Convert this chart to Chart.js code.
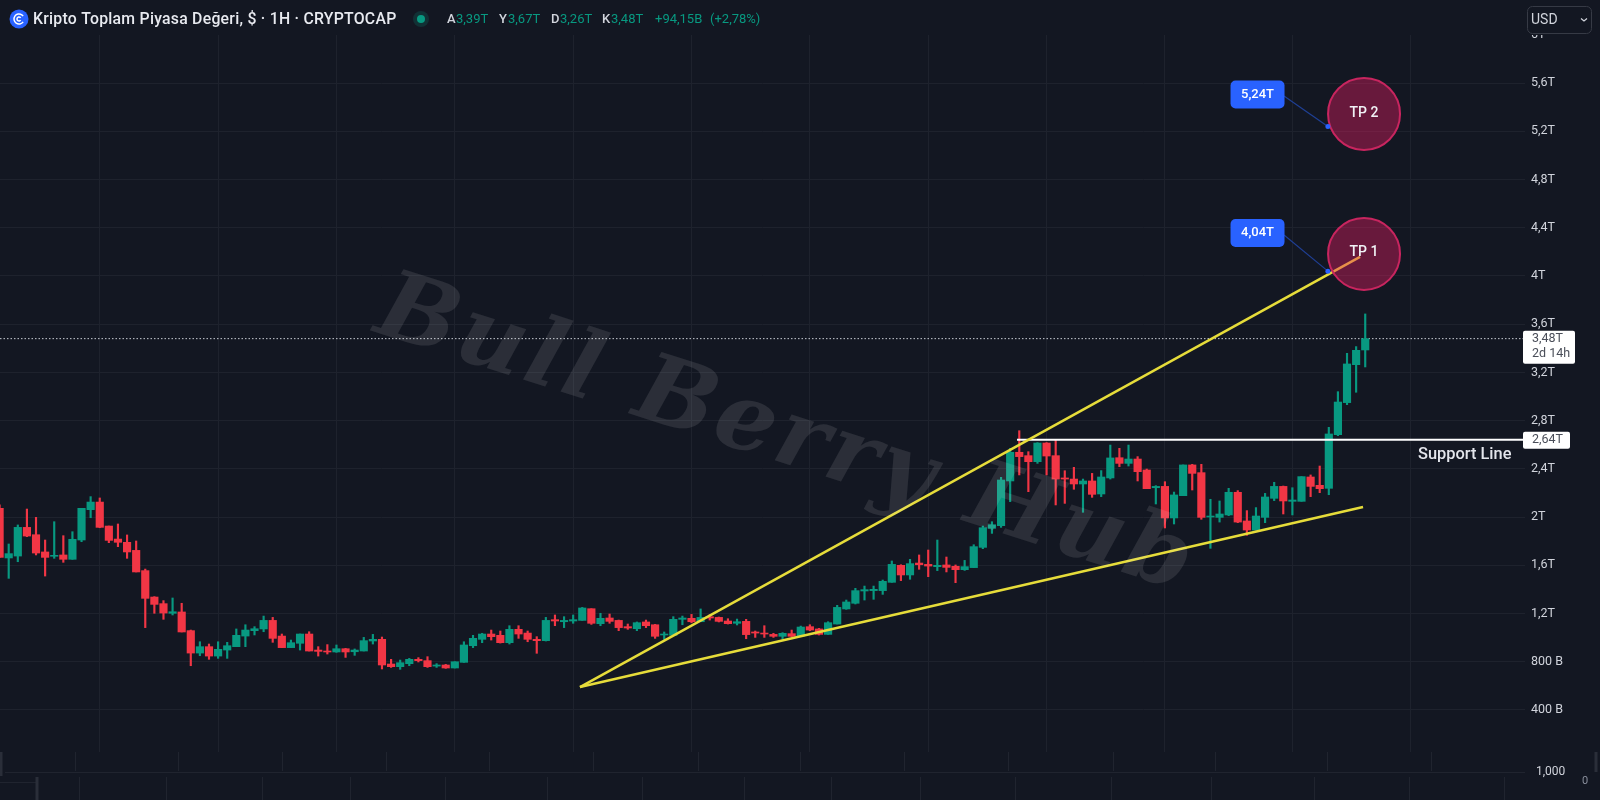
<!DOCTYPE html>
<html>
<head>
<meta charset="utf-8">
<title>Kripto Toplam Piyasa Değeri</title>
<script src="https://cdn.jsdelivr.net/npm/chart.js@4"></script>
<style>
body { margin: 0; background: #131722; }
canvas { display: block; }
</style>
</head>
<body>
<canvas id="chart" width="1600" height="800"></canvas>
<script>
// values in trillions, one candle per hour-bar of the picture
const openValues = [
  2.072,1.660,1.676,1.914,1.853,1.710,1.674,1.685,1.649,1.809,
  2.061,2.124,1.925,1.817,1.790,1.723,1.555,1.336,1.281,1.201,
  1.212,1.057,0.871,0.924,0.846,0.896,0.924,1.012,1.057,1.071,
  1.142,1.012,0.916,0.952,1.029,0.896,0.888,0.880,0.907,0.882,
  0.888,0.971,0.985,0.780,0.758,0.783,0.819,0.808,0.763,0.772,
  0.747,0.794,0.932,0.985,1.029,1.018,0.957,1.068,1.037,0.985,
  0.974,1.148,1.131,1.137,1.142,1.239,1.115,1.162,1.142,1.090,
  1.073,1.129,1.106,1.021,1.018,1.151,1.159,1.131,1.173,1.167,
  1.137,1.118,1.134,1.046,1.037,1.026,1.010,1.032,1.012,1.090,
  1.071,1.026,1.112,1.237,1.284,1.386,1.389,1.389,1.458,1.599,
  1.519,1.618,1.607,1.588,1.602,1.591,1.563,1.580,1.748,1.906,
  1.928,2.299,2.537,2.509,2.459,2.614,2.509,2.324,2.315,2.274,
  2.299,2.191,2.324,2.492,2.445,2.481,2.390,2.243,2.254,1.992,
  2.177,2.432,2.368,2.000,1.997,2.017,2.205,1.967,1.892,1.997,
  2.155,2.254,2.130,2.130,2.332,2.263,2.238,2.683,2.949,3.264,
  3.386
];
const closeValues = [
  1.665,1.696,1.914,1.842,1.701,1.665,1.682,1.649,1.815,2.072,
  2.124,1.914,1.806,1.790,1.710,1.544,1.325,1.275,1.203,1.214,
  1.046,0.871,0.924,0.846,0.902,0.932,1.018,1.062,1.073,1.142,
  0.993,0.916,0.957,1.029,0.888,0.885,0.880,0.907,0.880,0.896,
  0.974,0.985,0.772,0.758,0.791,0.819,0.808,0.758,0.772,0.747,
  0.799,0.938,0.993,1.029,1.007,0.957,1.068,1.029,0.985,0.974,
  1.142,1.137,1.142,1.148,1.245,1.118,1.159,1.134,1.082,1.079,
  1.123,1.098,1.010,1.029,1.151,1.162,1.131,1.167,1.162,1.134,
  1.115,1.131,1.024,1.037,1.029,1.010,1.035,1.010,1.087,1.062,
  1.026,1.123,1.250,1.295,1.389,1.397,1.400,1.466,1.607,1.519,
  1.613,1.604,1.593,1.599,1.582,1.563,1.588,1.754,1.911,1.936,
  2.307,2.537,2.501,2.459,2.614,2.506,2.315,2.315,2.274,2.299,
  2.188,2.332,2.490,2.445,2.481,2.376,2.235,2.254,1.992,2.183,
  2.432,2.362,1.997,2.008,2.025,2.205,1.958,1.892,2.008,2.166,
  2.254,2.133,2.141,2.335,2.254,2.235,2.689,2.954,3.270,3.383,
  3.480
];
const highValues = [
  2.100,1.776,1.934,2.066,1.997,1.809,1.961,1.845,1.878,2.072,
  2.169,2.158,1.925,1.942,1.851,1.801,1.568,1.339,1.306,1.328,
  1.284,1.062,0.965,0.946,0.965,0.960,1.071,1.106,1.090,1.178,
  1.167,1.029,0.979,1.029,1.048,0.924,0.941,0.938,0.910,0.905,
  1.001,1.026,1.004,0.819,0.813,0.827,0.833,0.841,0.783,0.777,
  0.799,0.965,1.018,1.035,1.062,1.054,1.098,1.098,1.054,1.007,
  1.167,1.187,1.173,1.187,1.250,1.239,1.201,1.195,1.145,1.112,
  1.129,1.145,1.109,1.046,1.173,1.178,1.192,1.237,1.189,1.170,
  1.156,1.153,1.151,1.054,1.098,1.035,1.040,1.062,1.095,1.106,
  1.076,1.131,1.267,1.311,1.408,1.427,1.427,1.477,1.635,1.604,
  1.649,1.685,1.726,1.809,1.668,1.602,1.640,1.770,1.925,1.961,
  2.329,2.570,2.716,2.542,2.617,2.617,2.639,2.384,2.412,2.315,
  2.362,2.385,2.597,2.570,2.597,2.501,2.398,2.260,2.293,2.207,
  2.432,2.437,2.437,2.147,2.133,2.238,2.219,2.053,2.078,2.196,
  2.288,2.257,2.243,2.335,2.349,2.423,2.744,3.040,3.358,3.414,
  3.685
];
const lowValues = [
  1.665,1.491,1.629,1.837,1.685,1.510,1.657,1.624,1.649,1.795,
  1.994,1.911,1.787,1.754,1.657,1.544,1.082,1.201,1.151,1.187,
  1.046,0.766,0.849,0.819,0.827,0.827,0.924,0.924,1.021,1.048,
  0.960,0.916,0.916,0.896,0.888,0.846,0.863,0.877,0.835,0.852,
  0.888,0.946,0.739,0.752,0.736,0.766,0.797,0.752,0.752,0.744,
  0.747,0.794,0.916,0.957,0.979,0.954,0.946,0.993,0.965,0.869,
  0.971,1.098,1.082,1.118,1.142,1.109,1.098,1.118,1.057,1.068,
  1.057,1.082,0.993,0.985,1.018,1.106,1.123,1.131,1.145,1.129,
  1.112,1.104,0.990,1.001,1.001,1.001,0.985,1.007,1.010,1.057,
  1.021,1.026,1.112,1.234,1.278,1.311,1.317,1.358,1.458,1.472,
  1.483,1.566,1.505,1.555,1.544,1.455,1.557,1.580,1.737,1.864,
  1.914,2.127,2.349,2.210,2.445,2.349,2.100,2.113,2.230,2.039,
  2.163,2.169,2.315,2.418,2.423,2.299,2.235,2.108,1.909,1.942,
  2.177,2.224,1.981,1.740,1.958,2.011,1.953,1.848,1.892,1.953,
  2.136,2.025,2.017,2.130,2.169,2.202,2.185,2.675,2.932,3.035,
  3.245
];

const yTickValues = [0.4,0.8,1.2,1.6,2,2.4,2.8,3.2,3.6,4,4.4,4.8,5.2,5.6,6];
const yTickLabels = ["400 B","800 B","1,2T","1,6T","2T","2,4T","2,8T","3,2T","3,6T","4T","4,4T","4,8T","5,2T","5,6T","6T"];
const xGridIndex = [11,24,37,50,63,76,89,102,115,128,142,155];

// drawings on the chart, in candle index / trillions
const upperTrend = [[63.75,0.589],[149.43,4.158]];
const lowerTrend = [[63.75,0.589],[149.76,2.083]];
const supportLevel = 2.64, supportStart = 111.75;
const lastPrice = 3.48;
const targetNames = ["TP 2","TP 1"];
const targetX = [149.87,149.87];
const targetY = [5.344,4.183];
const calloutLabels = ["5,24T","4,04T"];
const calloutBoxX = [138.17,138.17];
const calloutBoxY = [5.506,4.357];
const calloutStartX = [141.08,141.08];
const calloutStartY = [5.494,4.340];
const calloutEndX = [145.9,145.9];
const calloutEndY = [5.24,4.04];

const xMin = 0.044, xMax = 167.55, yMin = 0.05, yMax = 6.29;

const GREEN = "#089981", RED = "#f23645", BG = "#131722", GRID = "#1e222d", TEXT = "#d1d4dc";

const indexes = openValues.map((v, i) => i);
const candleColors = indexes.map(i => closeValues[i] >= openValues[i] ? GREEN : RED);
const pts = arr => arr.map(p => ({ x: p[0], y: p[1] }));

function lineSet(data, color, width, order, extra) {
  return Object.assign({
    type: "line", data: data, borderColor: color, borderWidth: width,
    pointRadius: 0, tension: 0, order: order
  }, extra || {});
}

const calloutSets = calloutLabels.map((l, i) => lineSet(
  [{ x: calloutStartX[i], y: calloutStartY[i] }, { x: calloutEndX[i], y: calloutEndY[i] }],
  "#1f3f94", 1.2, 1,
  { pointRadius: [0, 2.5], pointBackgroundColor: "#2962ff", pointBorderWidth: 0 }
));

function text(ctx, str, x, y, font, color, align) {
  ctx.font = font;
  ctx.fillStyle = color;
  ctx.textAlign = align || "left";
  ctx.textBaseline = "middle";
  ctx.fillText(str, x, y);
}

function box(ctx, x, y, w, h, r, fill, stroke) {
  ctx.beginPath();
  ctx.roundRect(x, y, w, h, r);
  if (fill) { ctx.fillStyle = fill; ctx.fill(); }
  if (stroke) { ctx.strokeStyle = stroke; ctx.lineWidth = 1; ctx.stroke(); }
}

function drawBottomStrip(ctx) {
  ctx.strokeStyle = "#20242f";
  ctx.lineWidth = 1;
  const rowA = [75,178,282,386,489,593,698,800,904,1008,1113,1215,1327,1431];
  const rowB = [79,166,262,350,445,547,642,744,831,920,1015,1111,1211,1314,1409,1504];
  ctx.beginPath();
  rowA.forEach(x => { ctx.moveTo(x + .5, 752); ctx.lineTo(x + .5, 771); });
  rowB.forEach(x => { ctx.moveTo(x + .5, 777); ctx.lineTo(x + .5, 800); });
  ctx.moveTo(5, 772.5); ctx.lineTo(1525, 772.5);
  ctx.moveTo(0, 782.5); ctx.lineTo(37, 782.5);
  ctx.stroke();
  ctx.strokeStyle = "#2a2e39";
  ctx.lineWidth = 3;
  ctx.beginPath();
  ctx.moveTo(1, 752); ctx.lineTo(1, 776);
  ctx.moveTo(37, 777); ctx.lineTo(37, 800);
  ctx.moveTo(1596, 752); ctx.lineTo(1596, 772);
  ctx.stroke();
  text(ctx, "1,000", 1536, 772, "12px Roboto", TEXT);
  text(ctx, "0", 1582, 781, "11px Roboto", "#8a8f9c");
}

function drawHeader(ctx) {
  ctx.fillStyle = BG;
  ctx.fillRect(0, 0, 1600, 35);
  ctx.beginPath(); ctx.arc(19, 19, 9.5, 0, Math.PI * 2); ctx.fillStyle = "#2962ff"; ctx.fill();
  ctx.strokeStyle = "#ffffff"; ctx.lineWidth = 1.5;
  ctx.beginPath(); ctx.arc(19, 19, 5, 0.6, Math.PI * 2 - 0.6); ctx.stroke();
  ctx.beginPath(); ctx.arc(19, 19, 2, 0.6, Math.PI * 2 - 0.6); ctx.stroke();
  ctx.letterSpacing = "0.25px";
  text(ctx, "Kripto Toplam Piyasa Değeri, $ · 1H · CRYPTOCAP", 33, 20, "500 15.8px Roboto", "#e8eaf0");
  ctx.letterSpacing = "0px";
  ctx.beginPath(); ctx.arc(421, 19, 8, 0, Math.PI * 2); ctx.fillStyle = "rgba(8,153,129,0.2)"; ctx.fill();
  ctx.beginPath(); ctx.arc(421, 19, 4, 0, Math.PI * 2); ctx.fillStyle = GREEN; ctx.fill();
  const f = "13px Roboto";
  const ohlc = [["A","3,39T",447],["Y","3,67T",499],["D","3,26T",551],["K","3,48T",602]];
  ohlc.forEach(o => {
    text(ctx, o[0], o[2], 20, "500 13px Roboto", "#d1d4dc");
    text(ctx, o[1], o[2] + 9, 20, f, GREEN);
  });
  text(ctx, "+94,15B", 655, 20, f, GREEN);
  text(ctx, "(+2,78%)", 710, 20, f, GREEN);
  // currency selector
  box(ctx, 1527.5, 6.5, 64, 27, 5, BG, "#363a45");
  text(ctx, "USD", 1531, 20, "14px Roboto", TEXT);
  ctx.strokeStyle = TEXT; ctx.lineWidth = 1.2;
  ctx.beginPath(); ctx.moveTo(1581, 18.5); ctx.lineTo(1584, 21); ctx.lineTo(1587, 18.5); ctx.stroke();
}

const overlayPlugin = {
  id: "overlay",
  afterDatasetsDraw(chart) {
    const ctx = chart.ctx, xs = chart.scales.x, ys = chart.scales.y;
    ctx.save();
    // watermark sits over the candles
    ctx.save();
    ctx.translate(372, 331);
    ctx.rotate(17.8 * Math.PI / 180);
    ctx.letterSpacing = "3.8px";
    ctx.font = "italic bold 94px 'DejaVu Serif'";
    ctx.fillStyle = "rgba(255,255,255,0.1)";
    ctx.textAlign = "left";
    ctx.textBaseline = "alphabetic";
    ctx.fillText("Bull Berry Hub", 0, 0);
    ctx.restore();

    targetNames.forEach((n, i) => {
      text(ctx, n, xs.getPixelForValue(targetX[i]), ys.getPixelForValue(targetY[i]) - 1, "500 14px Roboto", "#f0f1f5", "center");
    });
    calloutLabels.forEach((l, i) => {
      const cx = xs.getPixelForValue(calloutBoxX[i]), cy = ys.getPixelForValue(calloutBoxY[i]);
      box(ctx, cx - 27, cy - 14, 54, 28, 5, "#2962ff");
      text(ctx, l, cx, cy, "500 13px Roboto", "#ffffff", "center");
    });
    text(ctx, "Support Line", 1418, 455, "500 16.4px Roboto", "#e4e6ec");

    // price labels on the axis
    const py = ys.getPixelForValue(lastPrice), sy = ys.getPixelForValue(supportLevel);
    box(ctx, 1523, py - 8, 52, 33, 2, "#ffffff");
    text(ctx, "3,48T", 1532, py, "12.5px Roboto", "#4a4e59");
    text(ctx, "2d 14h", 1532, py + 15, "12.5px Roboto", "#4a4e59");
    box(ctx, 1523, sy - 8, 47, 17, 2, "#ffffff");
    text(ctx, "2,64T", 1532, sy + 0.5, "12.5px Roboto", "#4a4e59");

    drawBottomStrip(ctx);
    drawHeader(ctx);
    ctx.restore();
  }
};

new Chart(document.getElementById("chart"), {
  type: "bar",
  data: {
    datasets: [
      { data: indexes.map(i => ({ x: i, y: [openValues[i], closeValues[i]] })), backgroundColor: candleColors,
        barThickness: 7.5, grouped: false, borderSkipped: false, order: 4 },
      { data: indexes.map(i => ({ x: i, y: [lowValues[i], highValues[i]] })), backgroundColor: candleColors,
        barThickness: 1.5, grouped: false, borderSkipped: false, order: 5 },
      lineSet([{ x: xMin, y: lastPrice }, { x: xMax, y: lastPrice }], "#c9ccd4", 1, 6, { borderDash: [1.5, 2] }),
      lineSet(pts(upperTrend), "#e6dc3a", 2.5, 3),
      lineSet(pts(lowerTrend), "#e6dc3a", 2.5, 3),
      lineSet([{ x: supportStart, y: supportLevel }, { x: xMax, y: supportLevel }], "#ffffff", 2, 3),
      ...calloutSets,
      { type: "bubble", data: targetX.map((x, i) => ({ x: x, y: targetY[i], r: 36 })),
        backgroundColor: "rgba(233,30,99,0.4)", borderColor: "#c8255f", borderWidth: 2, order: 2 }
    ]
  },
  options: {
    responsive: false,
    devicePixelRatio: 1,
    animation: false,
    layout: { padding: { bottom: 48 }, autoPadding: false },
    plugins: { legend: { display: false }, tooltip: { enabled: false } },
    scales: {
      x: {
        type: "linear", min: xMin, max: xMax, offset: false,
        afterBuildTicks: s => { s.ticks = xGridIndex.map(v => ({ value: v })); },
        ticks: { display: false },
        grid: { color: GRID, drawTicks: false, offset: false },
        border: { display: false }
      },
      y: {
        position: "right", min: yMin, max: yMax,
        afterBuildTicks: s => { s.ticks = yTickValues.map(v => ({ value: v })); },
        // plot runs right up to the top edge, the header covers it
        afterFit: s => { s.width = 75; s.paddingTop = 0; s.paddingBottom = 0; },
        ticks: {
          color: TEXT, padding: 6, font: { family: "Roboto", size: 12.5 },
          callback: (v, i) => yTickLabels[i]
        },
        grid: { color: GRID, drawTicks: false },
        border: { display: false }
      }
    }
  },
  plugins: [overlayPlugin]
});
</script>
</body>
</html>
